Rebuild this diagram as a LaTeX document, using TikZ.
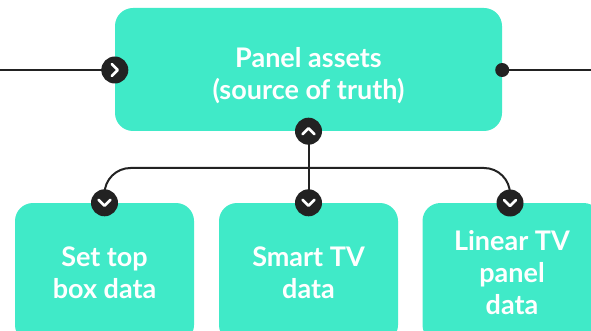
\documentclass[tikz,border=0pt]{standalone}
\usepackage{fontspec}
\setmainfont{Lato}
\definecolor{panelgreen}{HTML}{40EAC8}
\definecolor{portdark}{HTML}{222222}
\tikzset{
  panelbox/.style={fill=panelgreen, rounded corners=18pt, inner sep=0pt,
    text=white, align=center, font=\fontsize{27}{32}\selectfont\bfseries},
  port/.style={circle, fill=portdark, minimum size=27pt, inner sep=0pt},
  dot/.style={circle, fill=portdark, minimum size=14pt, inner sep=0pt},
  wire/.style={draw=portdark, line width=2pt},
  chev/.style={draw=white, line width=2.6pt, line cap=round, line join=round}
}
\begin{document}
\begin{tikzpicture}[x=1pt, y=-1pt]
  \clip (0,0) rectangle (591,331);
  \useasboundingbox (0,0) rectangle (591,331);

  %% free ends of the main wire
  \coordinate (feedin) at (0,70);
  \coordinate (feedout) at (591,70);

  %% boxes
  \node[panelbox, minimum width=387pt, minimum height=123pt] (assets) at (308.5,69.5)
    {\rule{0pt}{32pt}Panel assets\\(source of truth)};
  \node[panelbox, minimum width=179pt, minimum height=140pt] (settop) at (104.5,273)
    {Set top\\box data};
  \node[panelbox, minimum width=179pt, minimum height=140pt] (smarttv) at (308.5,273)
    {Smart TV\\data};
  \node[panelbox, minimum width=179pt, minimum height=140pt] (lineartv) at (512,273)
    {Linear TV\\panel\\data};

  %% ports
  \coordinate (inport) at (assets.west |- 0,70);
  \coordinate (outport) at (assets.east |- 0,70);
  \coordinate (upport) at (assets.south);
  \coordinate (settopin) at (settop.north -| 104.5,0);
  \coordinate (smarttvin) at (smarttv.north);
  \coordinate (linearin) at (510,203);

  %% wires
  \draw[wire] (feedin) -- (inport);
  \draw[wire] (outport) -- (feedout);
  \draw[wire] (upport) -- (smarttvin);
  \draw[wire, rounded corners=26pt] (settopin) -- (settopin |- 0,168)
    -- (linearin |- 0,168) -- (linearin);

  %% port markers
  \node[port] (inmark) at (inport) {};
  \draw[chev] ([shift={(-3,-6)}]inmark.center) -- ++(6,6) -- ++(-6,6);
  \node[dot] (outmark) at (outport) {};
  \node[port] (upmark) at (upport) {};
  \draw[chev] ([shift={(-6,3)}]upmark.center) -- ++(6,-6) -- ++(6,6);
  \foreach \p in {settopin, smarttvin, linearin} {
    \node[port] (\p mark) at (\p) {};
    \draw[chev] ([shift={(-6,-3)}]\p mark.center) -- ++(6,6) -- ++(6,-6);
  }
\end{tikzpicture}
\end{document}
